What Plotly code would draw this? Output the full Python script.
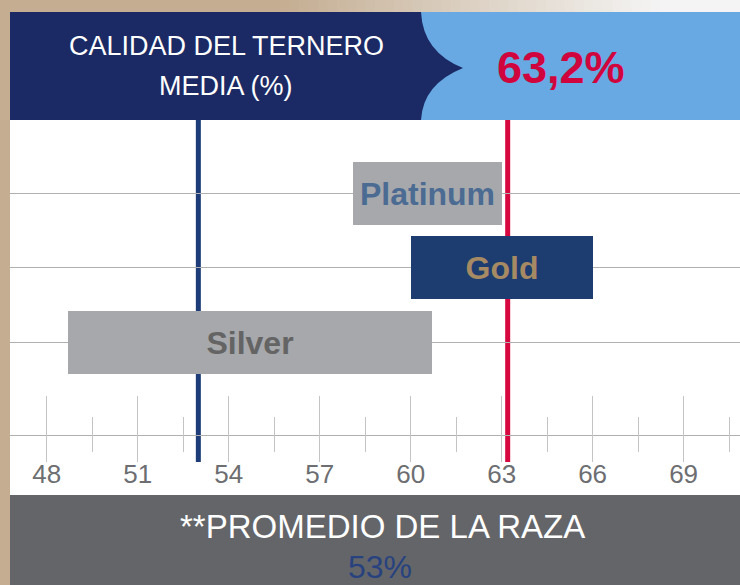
import plotly.graph_objects as go

# Grade ranges of calf quality (%), drawn as floating horizontal bars
grades = ["Silver", "Gold", "Platinum"]
grade_pos = [0, 1, 2]
grade_start = [48.7, 60.0, 58.1]
grade_end = [60.7, 66.0, 63.0]
grade_fill = ["#a7a8ab", "#1d3c70", "#a7a8ab"]
grade_text_color = ["#646464", "#a68a63", "#4b6b93"]

# Reference values
breed_avg = 53.0      # promedio de la raza
herd_avg = 63.2       # calidad del ternero media

major_ticks = [48, 51, 54, 57, 60, 63, 66, 69]
minor_ticks = [49.5, 52.5, 55.5, 58.5, 61.5, 64.5, 67.5, 70.5]

W, H = 740, 585
L, T, B = 10, 120, 462
PW, PH = W - L, B - T


def px(x):
    return (x - L) / PW


def py(y):
    return (B - y) / PH


fig = go.Figure()

fig.add_trace(go.Bar(
    y=grade_pos,
    x=[e - s for s, e in zip(grade_start, grade_end)],
    base=grade_start,
    orientation="h",
    width=0.846,
    marker=dict(color=grade_fill, line=dict(width=0)),
    text=grades,
    textposition="inside",
    insidetextanchor="middle",
    constraintext="none",
    textangle=0,
    textfont=dict(family="Liberation Sans, Arial", size=32,
                  color=grade_text_color, weight="bold"),
    hoverinfo="skip",
    showlegend=False,
))

# invisible helper so the minor-tick axis is rendered
fig.add_trace(go.Scatter(
    x=minor_ticks, y=[0] * len(minor_ticks), xaxis="x2", yaxis="y",
    mode="markers", marker=dict(opacity=0), hoverinfo="skip", showlegend=False,
))

shapes = []

# average lines
for val, col in [(breed_avg, "#1e3c78"), (herd_avg, "#d6083f")]:
    shapes.append(dict(type="line", xref="x", yref="paper", x0=val, x1=val,
                       y0=0, y1=1, line=dict(color=col, width=5), layer="between"))

# left tan border
shapes.append(dict(type="rect", xref="paper", yref="paper", x0=px(0), x1=px(10),
                   y0=py(H), y1=py(0), fillcolor="#c4ad91", line=dict(width=0)))

# top strip fading from tan to light grey
c0 = (0xc4, 0xad, 0x91)
c1 = (0xf4, 0xf4, 0xf4)
steps = 40
g0, g1 = 280, 660
shapes.append(dict(type="rect", xref="paper", yref="paper", x0=px(10), x1=px(g0),
                   y0=py(12), y1=py(0), fillcolor="#c4ad91", line=dict(width=0)))
for i in range(steps):
    t = (i + 0.5) / steps
    col = "rgb(%d,%d,%d)" % tuple(round(a + (b - a) * t) for a, b in zip(c0, c1))
    xa = g0 + (g1 - g0) * i / steps
    xb = g0 + (g1 - g0) * (i + 1) / steps + 0.6
    shapes.append(dict(type="rect", xref="paper", yref="paper", x0=px(xa), x1=px(xb),
                       y0=py(12), y1=py(0), fillcolor=col, line=dict(width=0)))
shapes.append(dict(type="rect", xref="paper", yref="paper", x0=px(g1), x1=px(W),
                   y0=py(12), y1=py(0), fillcolor="#f4f4f4", line=dict(width=0)))

# header: light blue panel with a navy arrow-shaped panel on the left
shapes.append(dict(type="rect", xref="paper", yref="paper", x0=px(10), x1=px(W),
                   y0=py(120), y1=py(12), fillcolor="#68a8e3", line=dict(width=0)))


def P(x, y):
    return "%.5f,%.5f" % (px(x), py(y))


navy_path = ("M " + P(10, 12) + " L " + P(421, 12) +
             " Q " + P(423, 52) + " " + P(463, 68) +
             " Q " + P(423, 84) + " " + P(421, 120) +
             " L " + P(10, 120) + " Z")
shapes.append(dict(type="path", xref="paper", yref="paper", path=navy_path,
                   fillcolor="#1b2a64", line=dict(width=0)))

# bottom grey band
shapes.append(dict(type="rect", xref="paper", yref="paper", x0=px(10), x1=px(W),
                   y0=py(H), y1=py(495), fillcolor="#646569", line=dict(width=0)))

annotations = [
    dict(text="CALIDAD DEL TERNERO", x=px(226), y=py(46),
         font=dict(family="Liberation Sans, Arial", size=27, color="white")),
    dict(text="MEDIA (%)", x=px(226), y=py(86),
         font=dict(family="Liberation Sans, Arial", size=27, color="white")),
    dict(text="%s%%" % str(herd_avg).replace(".", ","), x=px(561), y=py(68),
         font=dict(family="Liberation Sans, Arial", size=45, color="#d1053d", weight="bold")),
    dict(text="**PROMEDIO DE LA RAZA", x=px(382), y=py(526),
         font=dict(family="Liberation Sans, Arial", size=33, color="white")),
    dict(text="%d%%" % breed_avg, x=px(380), y=py(567),
         font=dict(family="Liberation Sans, Arial", size=32, color="#27427f")),
]
for a in annotations:
    a.update(xref="paper", yref="paper", xanchor="center", yanchor="middle",
             showarrow=False)

xr = [46.79, 70.86]
fig.update_layout(
    width=W, height=H, autosize=False,
    margin=dict(l=L, r=0, t=T, b=H - B, pad=0),
    paper_bgcolor="white", plot_bgcolor="white",
    showlegend=False,
    shapes=shapes,
    annotations=annotations,
    xaxis=dict(range=xr, tickvals=major_ticks, ticktext=[str(v) for v in major_ticks],
               ticks="inside", ticklen=66, tickwidth=1, tickcolor="#c4c4c4",
               showgrid=False, zeroline=False, showline=False,
               ticklabelstandoff=-6,
               tickfont=dict(family="Liberation Sans, Arial", size=26, color="#6d6e71"),
               fixedrange=True),
    xaxis2=dict(range=xr, overlaying="x", anchor="free", position=py(452),
                tickvals=minor_ticks, ticks="inside", ticklen=35, tickwidth=1,
                tickcolor="#c4c4c4", showticklabels=False, showgrid=False,
                zeroline=False, showline=False, fixedrange=True),
    yaxis=dict(range=[-1.61, 2.98], tickvals=[-1.25, 0, 1, 2], showticklabels=False,
               showgrid=True, gridcolor="#b0b0b0", gridwidth=1.3, zeroline=False,
               ticks="", fixedrange=True),
    bargap=0,
)

fig.write_html("out.html")
